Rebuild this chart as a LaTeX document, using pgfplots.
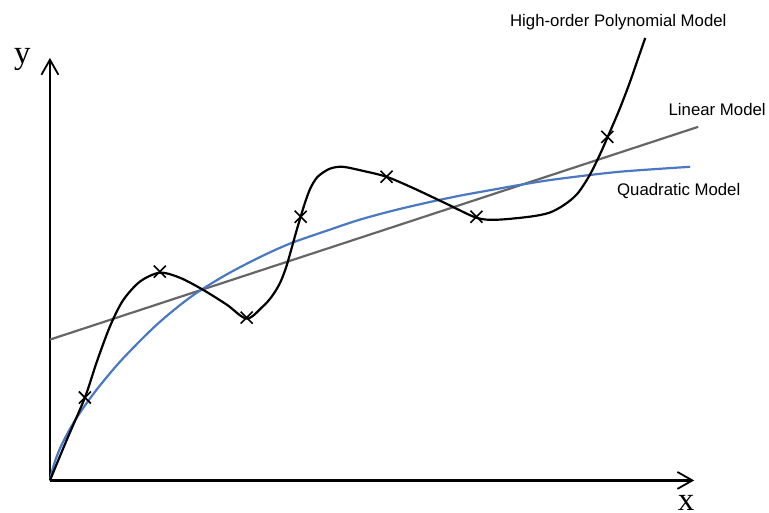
\documentclass[border=0pt]{standalone}
\usepackage{fontspec}
\setmainfont{Liberation Sans}
\newfontfamily\serifletters{Liberation Serif}
\usepackage{pgfplots}
\pgfplotsset{compat=1.18}
\usetikzlibrary{arrows.meta}
\definecolor{qblue}{HTML}{4A78C2}
\definecolor{lgray}{HTML}{666666}
\begin{document}
\begin{tikzpicture}
\begin{axis}[
  scale only axis, width=769pt, height=513pt,
  xmin=-50, xmax=719, ymin=-32, ymax=481,
  hide axis, clip=false,
]
\path (axis cs:-50,-32) rectangle (axis cs:719,481);
% axes
\draw[line width=2.2pt, -{Straight Barb[length=15pt,width=17pt,line width=1.8pt]}] (axis cs:0,0) -- (axis cs:645,0);
\draw[line width=2.2pt, -{Straight Barb[length=15pt,width=17pt,line width=1.8pt]}] (axis cs:0,0) -- (axis cs:0,423);
% linear model
\addplot[lgray, line width=2.2pt] coordinates {(0,141) (649,354)};
% quadratic model
\addplot[qblue, line width=2.2pt, smooth, tension=0.5] coordinates {
(0,0) (4,16) (10,32) (17,46) (25,60) (35,75) (50,95) (73,122) (107,156)
(140,183) (173,204) (207,222) (240,237) (280,251) (310,261) (343,270)
(377,278) (410,285) (443,291) (477,297) (510,302) (570,309) (641,314)};
% high-order polynomial model
\addplot[black, line width=2.2pt, smooth, tension=0.5] coordinates {
(0,0) (17,41) (35,83) (47,119) (60,154) (73,180) (90,199) (110,208)
(130,203) (153,191) (177,176) (197,162) (213,174) (222,184) (230,197)
(236,212) (241,229) (246,247) (251,264) (256,280) (261,293) (268,304)
(280,312) (293,314) (313,310) (337,304) (363,293) (397,277) (427,263)
(447,261) (480,264) (500,268) (515,276) (528,287) (540,305) (550,325)
(558,343) (570,371) (580,397) (588,420) (596,443)};
% data points
\addplot[black, only marks, mark=x, mark size=8.5pt, mark options={line width=1.6pt}] coordinates {
(35,83) (110,209) (197,163) (251,264) (337,304) (427,264) (558,344)};
% labels
\node[anchor=base, font=\fontsize{16.8}{20}\selectfont] at (axis cs:569,454.5) {High-order Polynomial Model};
\node[anchor=base, font=\fontsize{16.8}{20}\selectfont] at (axis cs:668,365) {Linear Model};
\node[anchor=base, font=\fontsize{16.8}{20}\selectfont] at (axis cs:629.5,285) {Quadratic Model};
\node[anchor=base, inner sep=0pt, font=\serifletters\fontsize{33}{36}\selectfont] at (axis cs:-27.5,417) {y};
\node[anchor=base, inner sep=0pt, font=\serifletters\fontsize{33}{36}\selectfont] at (axis cs:637,-30) {x};
\end{axis}
\end{tikzpicture}
\end{document}
